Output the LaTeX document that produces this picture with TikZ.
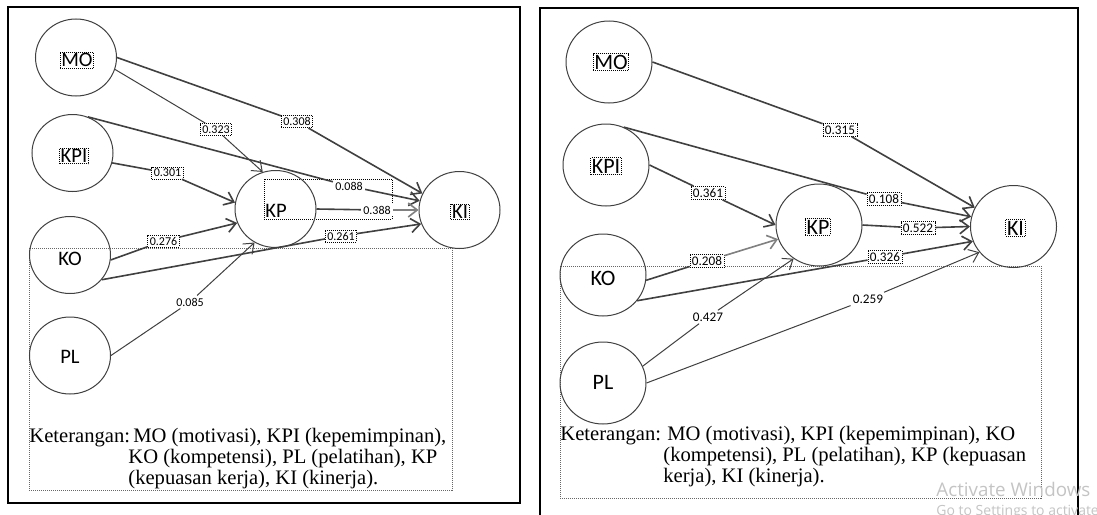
\documentclass[tikz,border=0pt]{standalone}
\usepackage{fontspec}
\setmainfont{Liberation Serif}
\newfontfamily\carlito{Carlito}
\newfontfamily\wmfont{Open Sans}
\usetikzlibrary{shapes.geometric,arrows.meta}
\begin{document}
\begin{tikzpicture}[x=0.5pt,y=-0.5pt,
  circL/.style={ellipse,draw=black!75,line width=0.5pt,minimum width=40.5pt,minimum height=38.5pt,inner sep=0pt},
  circR/.style={circL,minimum width=43pt,minimum height=41pt},
  nameL/.style={font=\carlito\fontsize{10.3}{12}\selectfont,inner sep=0.6pt},
  nameR/.style={font=\carlito\fontsize{11}{13}\selectfont,inner sep=0.6pt},
  dbox/.style={draw=black,dash pattern=on 0.5pt off 0.5pt,line width=0.4pt},
  numL/.style={font=\carlito\fontsize{6}{7}\selectfont,fill=white,inner sep=1pt},
  numR/.style={font=\carlito\fontsize{6.6}{8}\selectfont,fill=white,inner sep=1pt},
  ln/.style={draw=black!75,line width=0.8pt},
  conn/.style={ln,-{Straight Barb[length=4.5pt,width=7pt]}},
  thinln/.style={line width=0.5pt},
  greyln/.style={draw=black!50},
  legbox/.style={draw=black!60,dash pattern=on 0.5pt off 0.5pt,line width=0.45pt},
  leg/.style={font=\fontsize{10.3}{12}\selectfont,anchor=base west,inner sep=0pt},
  frame/.style={draw=black,line width=1pt},
  wm/.style={font=\wmfont\fontsize{9.4}{11}\selectfont,text=black!23,anchor=base west,inner sep=0pt},
  wmb/.style={font=\wmfont\fontsize{7}{8}\selectfont,text=black!23,anchor=base west,inner sep=0pt},
]
\useasboundingbox (0,0) rectangle (1097,514);
\clip (0,0) rectangle (1097,514);
\fill[white] (0,0) rectangle (1097,514);

% ---------- frames ----------
\draw[frame] (8,7) rectangle (520,503);
\draw[frame] (540,8) rectangle (1078,540);

% ---------- legend boxes ----------
\draw[legbox] (29,248) rectangle (452,490);
\draw[legbox] (560,266) rectangle (1041,498);
\draw[dbox] (264,179) rectangle (392,219);

% ---------- left panel ----------
\node[circL] (MOa) at (76,57.5) {};
\node[circL] (KPIa) at (72.5,153) {};
\node[circL] (KOa) at (70,255) {};
\node[circL] (PLa) at (70,355.5) {};
\node[circL] (KPa) at (275.5,209) {};
\node[circL] (KIa) at (459.5,210) {};

\node[nameL,dbox] (tMOa) at (77,60) {MO};
\node[nameL,dbox] (tKPIa) at (74,156) {KPI};
\node[nameL] (tKOa) at (70,259) {KO};
\node[nameL] (tPLa) at (70,357) {PL};
\node[nameL] (tKPa) at (276,211) {KP};
\node[nameL,dbox] (tKIa) at (460,212) {KI};

\node[numL,dbox] (l308) at (297,121.5) {0.308};
\node[numL,dbox] (l323) at (216,129.5) {0.323};
\node[numL] (l088) at (349,186) {0.088};
\node[numL,dbox] (l301) at (167.5,173) {0.301};
\node[numL] (l388) at (377,210) {0.388};
\node[numL,dbox] (l276) at (163.5,241) {0.276};
\node[numL,dbox] (l261) at (341,236) {0.261};
\node[numL] (l085) at (190,302) {0.085};

\draw[conn] (MOa.east) -- (l308) -- (KIa.156);
\draw[conn,thinln] (MOa.-17) -- (l323) -- (KPa.109);
\draw[conn] (KPIa.67) -- (l088) -- (KIa.167);
\draw[conn] (KPIa.-14) -- (l301) -- (KPa.171);
\draw[ln] (KPa.east) -- (l388);
\draw[conn,greyln] (l388) -- (KIa.180);
\draw[conn] (KOa.-7) -- (l276) -- (KPa.200);
\draw[conn] (KOa.-38) -- (l261) -- (KIa.200);
\draw[conn,thinln] (PLa.east) -- (l085) -- (KPa.238);

% ---------- right panel ----------
\node[circR] (MOb) at (609,62) {};
\node[circR] (KPIb) at (606,165) {};
\node[circR] (KOb) at (603,275) {};
\node[circR] (PLb) at (603,383) {};
\node[circR] (KPb) at (819,225) {};
\node[circR] (KIb) at (1013.5,226.5) {};

\node[nameR,dbox] (tMOb) at (611,62) {MO};
\node[nameR,dbox] (tKPIb) at (606,166) {KPI};
\node[nameR] (tKOb) at (603,278) {KO};
\node[nameR] (tPLb) at (603,382) {PL};
\node[nameR,dbox] (tKPb) at (818,227) {KP};
\node[nameR,dbox] (tKIb) at (1015.5,228) {KI};

\node[numR,dbox] (r315) at (840,130) {0.315};
\node[numR,dbox] (r108) at (884,199) {0.108};
\node[numR,dbox] (r361) at (708,193) {0.361};
\node[numR,dbox] (r522) at (918,228) {0.522};
\node[numR,dbox] (r208) at (707,261) {0.208};
\node[numR,dbox] (r326) at (885,257) {0.326};
\node[numR] (r427) at (708,317) {0.427};
\node[numR] (r259) at (868,299) {0.259};

\draw[conn] (MOb.east) -- (r315) -- (KIb.154);
\draw[conn] (KPIb.65) -- (r108) -- (KIb.167);
\draw[conn] (KPIb.east) -- (r361) -- (KPb.180);
\draw[conn] (KPb.east) -- (r522) -- (KIb.180);
\draw[ln] (KOb.-7) -- (r208);
\draw[conn,greyln] (r208) -- (KPb.199);
\draw[conn] (KOb.-37) -- (r326) -- (KIb.200);
\draw[conn,thinln] (PLb.23) -- (r427) -- (KPb.233);
\draw[conn,thinln] (PLb.east) -- (r259) -- (KIb.217);

% ---------- legends ----------
\node[leg] (kL) at (29,442) {Keterangan:};
\node[leg] (k1L) at (133,442) {MO (motivasi), KPI (kepemimpinan),};
\node[leg] (k2L) at (128,463) {KO (kompetensi), PL (pelatihan), KP};
\node[leg] (k3L) at (128,484) {(kepuasan kerja), KI (kinerja).};

\node[leg] (kR) at (560,440) {Keterangan:};
\node[leg] (k1R) at (667,440) {MO (motivasi), KPI (kepemimpinan), KO};
\node[leg] (k2R) at (663,461) {(kompetensi), PL (pelatihan), KP (kepuasan};
\node[leg] (k3R) at (663,482) {kerja), KI (kinerja).};

% ---------- watermark ----------
\node[wm] (wm1) at (936,496) {Activate Windows};
\node[wmb] (wm2) at (936,515) {Go to Settings to activate};
\end{tikzpicture}
\end{document}
